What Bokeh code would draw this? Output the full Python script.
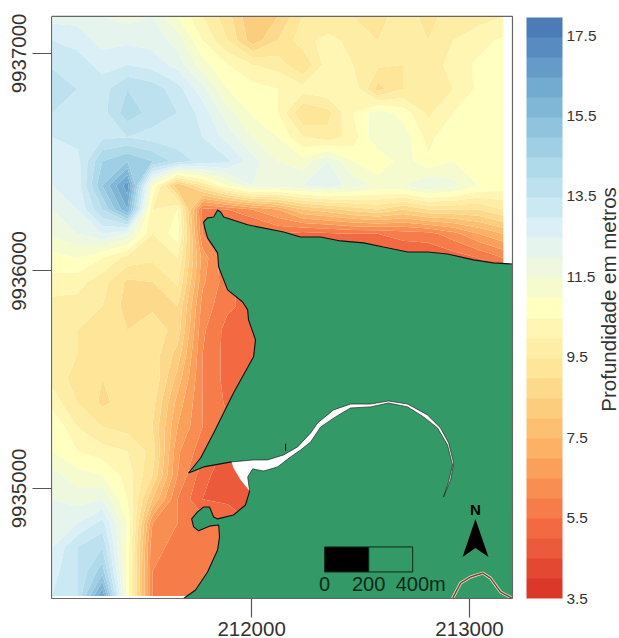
import math
import numpy as np
from bokeh.plotting import figure
from bokeh.embed import file_html
from bokeh.resources import INLINE
from bokeh.models import ColorBar, LinearColorMapper, FixedTicker
from bokeh.core.properties import value

grid_x = [211085 + 115 * i for i in range(19)]
grid_y = [9934506 + 111 * i for i in range(25)]

# depth values, listed from the top row of the map down
depth_rows = [
 [12.3,12.3,12.0,11.8,12.0,11.0,10.0, 9.2, 8.0, 8.5, 9.5, 9.5, 9.5, 9.3, 9.8, 9.3, 9.8, 9.8,10.0],
 [13.0,12.8,12.3,12.4,12.3,11.8,10.5, 9.5, 8.2, 9.0, 9.8,10.2, 9.8, 9.5, 9.8, 9.5,10.0,10.3,10.6],
 [13.4,13.3,12.8,13.0,12.8,12.3,11.2,10.5,10.0, 9.8, 9.0,10.3,10.0, 9.6, 9.5, 9.7,10.2,10.6,10.8],
 [14.0,13.5,13.3,14.0,13.8,13.2,12.2,11.0,10.7,10.5,10.2,10.4,10.4, 8.8, 9.5, 9.7,10.0,10.6,11.0],
 [13.5,13.3,13.3,14.3,13.8,13.5,12.8,11.7,10.9,10.5, 9.0, 9.3,10.5,11.3,10.8, 9.9,10.5,11.0,11.0],
 [13.0,13.2,13.4,13.5,13.3,13.2,13.0,12.3,11.5,11.0,10.0, 9.7,10.2,11.5,11.3,10.3,11.0,11.0,10.8],
 [13.0,12.8,14.5,15.0,14.5,13.8,13.3,13.1,12.2,11.5,11.2,12.0,11.0,10.5,11.3,10.6,11.0,11.0,10.7],
 [12.5,12.7,15.0,16.8,11.0, 8.0, 9.5,11.0,12.0,11.8,12.0,12.3,11.8,11.4,11.5,12.0,11.7,11.0,10.8],
 [12.0,12.5,14.0,16.0,10.0,10.5, 5.8, 6.0, 6.5, 7.0, 8.0, 8.3, 8.7, 9.0, 8.5, 9.0, 9.0, 9.0, 9.5],
 [11.6,12.0,12.5,12.0,10.0,10.8, 6.0, 5.0, 5.0, 5.5, 5.3, 5.4, 5.5, 5.5, 5.7, 5.8, 6.3, 7.0, 7.5],
 [10.8,11.0,10.5, 9.8, 9.6,10.0, 6.8, 5.5, 5.0, 5.0, 5.0, 5.0, 5.0, 5.0, 5.0, 5.0, 5.2, 5.5, 6.0],
 [10.3,10.2, 9.7, 8.9, 9.0, 9.6, 6.6, 5.7, 5.0, 5.0, 5.0, 5.0, 5.0, 5.0, 5.0, 5.0, 5.0, 5.0, 5.0],
 [ 9.8, 9.8, 9.5, 8.8, 8.9, 9.0, 6.3, 5.6, 5.3, 5.0, 5.0, 5.0, 5.0, 5.0, 5.0, 5.0, 5.0, 5.0, 5.0],
 [ 9.8, 9.5, 9.3, 9.0, 9.3, 8.8, 6.1, 5.3, 5.2, 5.0, 5.0, 5.0, 5.0, 5.0, 5.0, 5.0, 5.0, 5.0, 5.0],
 [10.0, 9.5, 9.5, 9.3, 9.3, 8.3, 6.0, 5.3, 5.2, 5.0, 5.0, 5.0, 5.0, 5.0, 5.0, 5.0, 5.0, 5.0, 5.0],
 [ 9.8, 9.3, 9.0, 9.4, 9.5, 7.8, 6.0, 5.3, 5.2, 5.0, 5.0, 5.0, 5.0, 5.0, 5.0, 5.0, 5.0, 5.0, 5.0],
 [10.3, 9.5, 8.9, 9.2, 9.2, 7.3, 6.0, 5.4, 5.2, 5.0, 5.0, 5.0, 5.0, 5.0, 5.0, 5.0, 5.0, 5.0, 5.0],
 [11.0,10.0, 9.5, 9.3, 9.0, 7.0, 6.0, 5.6, 5.0, 5.0, 5.0, 5.0, 5.0, 5.0, 5.0, 5.0, 5.0, 5.0, 5.0],
 [11.0,10.5,10.2,10.0, 9.3, 6.6, 5.7, 4.8, 5.0, 5.0, 5.0, 5.0, 5.0, 5.0, 5.0, 5.0, 5.0, 5.0, 5.0],
 [11.7,11.2,11.0,10.3, 9.0, 6.5, 5.2, 4.6, 5.0, 5.0, 5.0, 5.0, 5.0, 5.0, 5.0, 5.0, 5.0, 5.0, 5.0],
 [12.0,11.8,12.0,10.5, 8.0, 6.0, 5.0, 4.9, 5.0, 5.0, 5.0, 5.0, 5.0, 5.0, 5.0, 5.0, 5.0, 5.0, 5.0],
 [12.5,12.5,13.2,11.0, 6.5, 6.0, 5.8, 5.4, 5.0, 5.0, 5.0, 5.0, 5.0, 5.0, 5.0, 5.0, 5.0, 5.0, 5.0],
 [12.5,13.5,14.0,10.8, 6.1, 5.9, 5.7, 5.6, 5.0, 5.0, 5.0, 5.0, 5.0, 5.0, 5.0, 5.0, 5.0, 5.0, 5.0],
 [12.8,13.5,14.8,10.8, 6.0, 6.0, 5.8, 5.6, 5.0, 5.0, 5.0, 5.0, 5.0, 5.0, 5.0, 5.0, 5.0, 5.0, 5.0],
 [13.0,13.5,16.5,10.8, 6.0, 5.9, 5.9, 5.7, 5.0, 5.0, 5.0, 5.0, 5.0, 5.0, 5.0, 5.0, 5.0, 5.0, 5.0],
]
levels = [3.5 + 0.5 * i for i in range(30)]
anchors = ["#d73027","#f46d43","#fdae61","#fee090","#ffffbf","#e0f3f8","#abd9e9","#74add1","#4575b4"]
def ramp(n):
    rgb = np.array([[int(a[i:i+2], 16) for i in (1, 3, 5)] for a in anchors], float)
    t = (np.arange(n) + 0.5) / n * (len(anchors) - 1)
    ch = [np.interp(t, np.arange(len(anchors)), rgb[:, k]) for k in range(3)]
    return ["#%02x%02x%02x" % (int(r), int(g), int(b)) for r, g, b in zip(*ch)]
palette = ramp(29)

north_x = [211780,211798,211826,211844,211858,211872,211982,212147,212225,212317,212408,212514,212605,212716,212807,212899,213018,213110,213197]
north_y = [9936225,9936244,9936248,9936280,9936271,9936248,9936212,9936179,9936156,9936156,9936138,9936129,9936110,9936087,9936087,9936078,9936051,9936037,9936032]
corner_x = [213197,213197]
corner_y = [9936032,9934494]
south_x = [211688,211743,211798,211844,211853,211849,211812,211757,211734,211725,211752,211780,211807,211826,211844,211917,211972,211991]
south_y = [9934494,9934533,9934616,9934717,9934777,9934832,9934828,9934805,9934823,9934860,9934892,9934915,9934915,9934869,9934860,9934878,9934924,9934988]
west_x = [211908,211780,211711,211766,211826,211917,212009,212018,211986,211982,211959,211890,211849,211844,211798,211784,211780]
west_y = [9935122,9935099,9935071,9935140,9935255,9935439,9935605,9935683,9935775,9935821,9935857,9935913,9936018,9936083,9936152,9936202,9936225]

channel_x = [211908,212009,212073,212147,212211,212271,212303,212376,212454,212546,212628,212716,212807,212867,212904,212927,212913,212881,
             212904,212922,212899,212853,212789,212716,212628,212546,212454,212385,212317,212271,212225,212179,212119,212055,212005,211982,211991]
channel_y = [9935122,9935131,9935131,9935154,9935191,9935255,9935301,9935361,9935388,9935388,9935402,9935388,9935338,9935278,9935209,9935117,9935039,9934961,
             9935030,9935108,9935200,9935278,9935329,9935375,9935393,9935375,9935370,9935329,9935283,9935214,9935177,9935145,9935099,9935080,9935090,9935053,9934988]
wedge_x = [211950,211917]
wedge_y = [9935039,9935094]
stub_x = [212156,212156]
stub_y = [9935205,9935172]
bump_x = [212922,212959,213005,213060,213096,213142,213197]
bump_y = [9934494,9934565,9934593,9934611,9934588,9934524,9934494]
arrow_x = [213027,212968,213027,213087]
arrow_y = [9934860,9934685,9934726,9934685]
scale_edges = [212335,212537,212739]
scale_y = [9934616,9934731]
x_ticks = [212000,213000]
y_ticks = [9935000,9936000,9937000]
bar_ticks = [3.5,5.5,7.5,9.5,11.5,13.5,15.5,17.5]
map_x = (211082, 213197)
map_y = (9934494, 9937170)

FONT = "Liberation Sans"
p = figure(width=619, height=638, frame_width=568, frame_height=584,
           x_range=(211082, 213688), y_range=(9934494, 9937179),
           min_border_left=51, min_border_right=0, min_border_top=14, min_border_bottom=40,
           output_backend="svg", toolbar_location=None, background_fill_color="white",
           styles={"position": "absolute", "top": "0px", "left": "0px"})
p.grid.visible = False
p.outline_line_color = None

for ax, t in ((p.xaxis[0], x_ticks), (p.yaxis[0], y_ticks)):
    ax.ticker = FixedTicker(ticks=t)
    ax.major_tick_out = 19
    ax.major_tick_in = 0
    ax.minor_tick_line_color = None
    ax.axis_line_color = "#666666"
    ax.major_tick_line_color = "#555555"
    ax.major_tick_line_width = 1.2
    ax.major_label_text_font = FONT
    ax.major_label_text_font_size = "20.5px"
    ax.major_label_text_color = "#333333"
p.xaxis[0].bounds = map_x
p.yaxis[0].bounds = map_y
p.xaxis[0].major_label_standoff = 4
p.yaxis[0].major_label_standoff = 6
p.xaxis[0].formatter.use_scientific = False
p.yaxis[0].formatter.use_scientific = False
p.yaxis[0].major_label_orientation = "vertical"

p.contour(grid_x, grid_y, np.array(depth_rows[::-1]), levels, fill_color=palette, line_color=None)

GREEN = "#339966"
p.patch(north_x + corner_x + south_x + west_x, north_y + corner_y + south_y + west_y,
        fill_color=GREEN, line_color=None)
p.patch(channel_x + wedge_x, channel_y + wedge_y, fill_color="white", line_color=None)
p.multi_line([north_x, south_x, west_x, stub_x],
             [north_y, south_y, west_y, stub_y], line_color="#111111", line_width=1.1)
p.line(channel_x, channel_y, line_color="#111111", line_width=0.6)
p.line(bump_x, bump_y, line_color="#e8e8e0", line_width=3)
p.line(bump_x, bump_y, line_color="#c9825a", line_width=1.8)
p.line(bump_x, bump_y, line_color="#222222", line_width=0.7)
p.patch(arrow_x, arrow_y, fill_color="black", line_color=None)
p.text([arrow_x[0]], [9934901], text=["N"], text_font=value(FONT), text_font_style="bold",
       text_font_size="15px", text_align="center", text_baseline="middle", text_color="black")

p.quad(left=[scale_edges[0]], right=[scale_edges[1]], bottom=[scale_y[0]], top=[scale_y[1]],
       fill_color="black", line_color="#0c2a1a", line_width=1)
p.quad(left=[scale_edges[1]], right=[scale_edges[2]], bottom=[scale_y[0]], top=[scale_y[1]],
       fill_color=None, line_color="#0c2a1a", line_width=1)
p.text([scale_edges[0], scale_edges[1]], [9934561, 9934561], text=["0", "200"], text_font=value(FONT),
       text_font_size="20px", text_align="center", text_baseline="middle", text_color="#0c2a1a")
p.text([212661], [9934561], text=["400m"], text_font=value(FONT),
       text_font_size="20px", text_align="left", text_baseline="middle", text_color="#0c2a1a")

# map frame
p.quad(left=[map_x[0]], right=[map_x[1]], bottom=[map_y[0]], top=[map_y[1]],
       fill_color=None, line_color="#666666", line_width=1.2)

mapper = LinearColorMapper(palette=palette, low=3.5, high=17.95)
cb = ColorBar(color_mapper=mapper, ticker=FixedTicker(ticks=bar_ticks), location=(475, 0),
              width=36, height=581, padding=0, margin=0, bar_line_color=None,
              major_tick_line_color=None, minor_tick_line_color=None,
              major_label_text_font=FONT, major_label_text_font_size="15.4px",
              major_label_text_color="#333333", label_standoff=4,
              background_fill_color=None, border_line_color=None)
p.add_layout(cb, "center")

p.text([213637], [9935869], text=["Profundidade em metros"], angle=math.pi / 2,
       text_font=value(FONT), text_font_size="20.5px", text_color="#333333",
       text_align="center", text_baseline="middle")

open("out.html", "w").write(file_html(p, INLINE))
